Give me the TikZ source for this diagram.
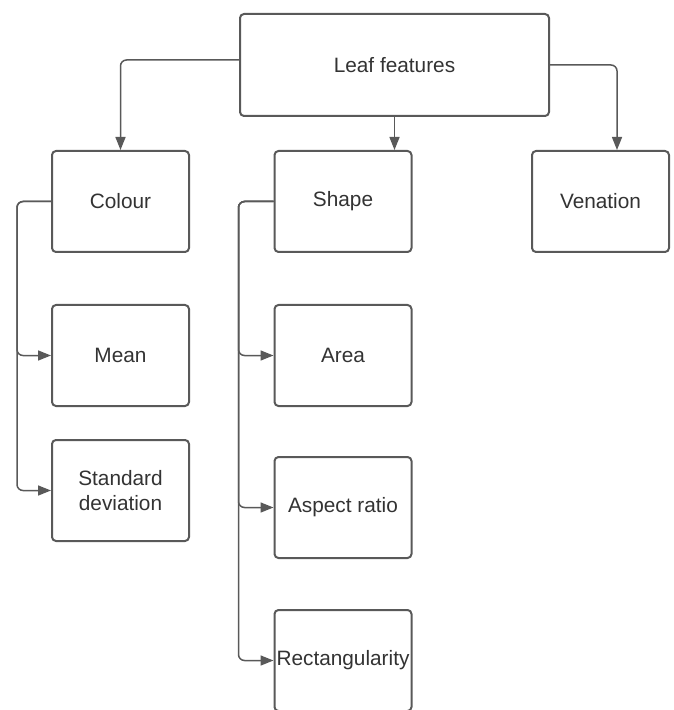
\documentclass[tikz,border=0pt]{standalone}
\usepackage{fontspec}
\setmainfont{Liberation Sans}
\usetikzlibrary{arrows.meta,positioning}

\definecolor{linegray}{HTML}{595959}
\definecolor{textgray}{HTML}{333333}

\begin{document}
\begin{tikzpicture}[x=0.5pt, y=-0.5pt, node distance=25.5pt,
 >={Triangle[length=6.5pt,width=5pt]},
 block/.style = {draw=linegray, line width=1pt, fill=white, rectangle, rounded corners=2pt,
                 minimum height=50.5pt, minimum width=68.5pt, align=center, inner sep=0pt,
                 text=textgray, font=\fontsize{10.4}{12.5}\selectfont},
 bigblock/.style = {block, minimum height=51pt, minimum width=154.5pt},
 link/.style = {draw=linegray, line width=0.75pt, rounded corners=3pt, ->},
                        ]
    \useasboundingbox (0,0) rectangle (673,710);

    \node [bigblock]                    (leaf)     at (394.5,65)  {Leaf features};
    \node [block]                       (colour)   at (120.5,201.5) {Colour};
    \node [block]                       (shape)    at (343,201.5) {Shape};
    \node [block]                       (venation) at (600.5,201.5) {Venation};
    \node [block, below=of colour]      (mean)     {Mean};
    \node [block, below=16pt of mean]   (stddev)   {Standard\\ deviation};
    \node [block, below=of shape]       (area)     {Area};
    \node [block, below=24.5pt of area] (aspect)   {Aspect ratio};
    \node [block, below=25pt of aspect] (rect)     {Rectangularity};

%% paths
    \draw [link] ([yshift=2.5pt]leaf.west) -| (colour.north);
    \draw [link] (leaf.south) -- (leaf.south |- shape.north);
    \draw [link] (leaf.east) -| ([xshift=8.25pt]venation.north);

    \draw [link] (colour.west) -| ([xshift=-17pt]mean.west) -- (mean.west);
    \draw [link] (colour.west) -| ([xshift=-17pt]stddev.west) -- (stddev.west);

    \draw [link] (shape.west) -| ([xshift=-17.5pt]area.west) -- (area.west);
    \draw [link] (shape.west) -| ([xshift=-17.5pt]aspect.west) -- (aspect.west);
    \draw [link] (shape.west) -| ([xshift=-17.5pt]rect.west) -- (rect.west);
\end{tikzpicture}
\end{document}
